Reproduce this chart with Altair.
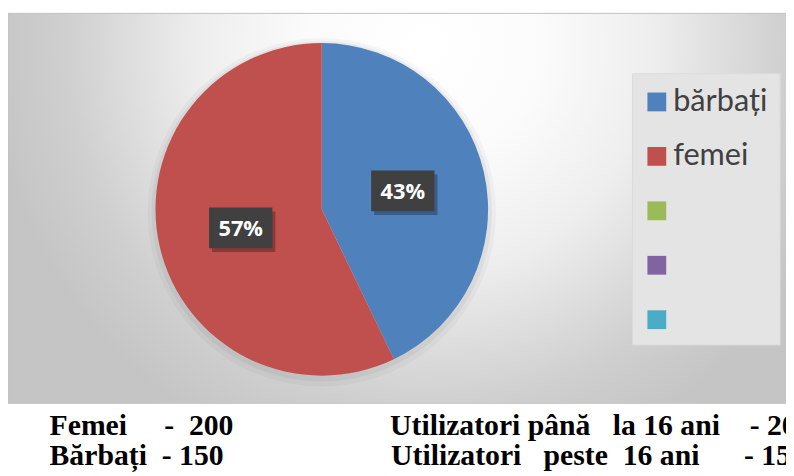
import altair as alt
import pandas as pd

# ---- data ----
categories = ["bărbați", "femei"]
values = [150, 200]
order_idx = [0, 1]
legend_domain = ["bărbați", "femei", "s3", "s4", "s5"]
legend_colors = ["#4F81BD", "#C0504D", "#9BBB59", "#8064A2", "#4BACC6"]
footer_left_names = ["Femei", "Bărbați"]
footer_left_values = [200, 150]
footer_right_words_1 = ["Utilizatori până", "la 16 ani"]
footer_right_words_2 = ["Utilizatori", "peste", "16 ani"]
footer_right_values = [200, 150]

# ---- layout ----
W, H = 786, 468
CX, CY, R, LR = 317, 201, 168, 84
NB = "\u00a0"

pie_df = pd.DataFrame({"cat": categories, "val": values, "idx": order_idx})

base = (
    alt.Chart(pie_df)
    .transform_joinaggregate(total="sum(val)")
    .transform_window(cum="sum(val)", sort=[alt.SortField("idx")], frame=[None, 0])
    .transform_calculate(mid="(datum.cum - datum.val / 2) / datum.total * 2 * PI")
    .transform_calculate(lx=f"{CX} + {LR} * sin(datum.mid)")
    .transform_calculate(ly=f"{CY} - {LR} * cos(datum.mid)")
    .transform_calculate(pct="format(datum.val / datum.total, '.0%')")
    .transform_calculate(bx1="datum.lx - 32", bx2="datum.lx + 32",
                         by1="datum.ly - 20.5", by2="datum.ly + 20.5")
    .transform_calculate(sx1="datum.bx1 + 3", sx2="datum.bx2 + 3",
                         sy1="datum.by1 + 4", sy2="datum.by2 + 4")
)

gradient = alt.RadialGradient(
    gradient="radial",
    stops=[
        alt.GradientStop(offset=0.0, color="#ffffff"),
        alt.GradientStop(offset=0.27, color="#fbfbfb"),
        alt.GradientStop(offset=0.52, color="#eeeeee"),
        alt.GradientStop(offset=0.68, color="#dedede"),
        alt.GradientStop(offset=0.83, color="#cfcfcf"),
        alt.GradientStop(offset=1.0, color="#c5c5c5"),
    ],
    x1=0.534, y1=0.293, r1=0, x2=0.534, y2=0.293, r2=0.556,
)

bg = alt.Chart(alt.Data(values=[{}])).mark_rect(
    fill=gradient, stroke="#c2c2c2", strokeWidth=1
).encode(x=alt.value(0), x2=alt.value(W + 5), y=alt.value(3), y2=alt.value(397))

legend_box = alt.Chart(alt.Data(values=[{}])).mark_rect(
    fill="#e4e4e4", stroke="#dcdcdc", strokeWidth=1
).encode(x=alt.value(631), x2=alt.value(780), y=alt.value(64), y2=alt.value(338))

halo1 = alt.Chart(alt.Data(values=[{}])).mark_arc(
    radius=176, theta=0, theta2=6.2832, color="#000000", opacity=0.03
).encode(x=alt.value(CX), y=alt.value(CY + 3))
halo2 = alt.Chart(alt.Data(values=[{}])).mark_arc(
    radius=172, theta=0, theta2=6.2832, color="#000000", opacity=0.045
).encode(x=alt.value(CX), y=alt.value(CY + 2))

pie = alt.Chart(pie_df).mark_arc(radius=R).encode(
    theta=alt.Theta("val:Q", stack=True),
    order=alt.Order("idx:Q"),
    color=alt.Color(
        "cat:N",
        scale=alt.Scale(domain=legend_domain, range=legend_colors),
        legend=alt.Legend(
            title=None,
            orient="none",
            legendX=640,
            legendY=77,
            symbolType="square",
            symbolSize=361,
            symbolStrokeWidth=0,
            symbolOpacity=1,
            labelFont="Lato",
            labelFontSize=31,
            labelColor="#404040",
            labelOffset=1,
            padding=0,
            rowPadding=23,
            labelExpr="indexof(['s3','s4','s5'], datum.label) >= 0 ? '' : datum.label",
        ),
    ),
    x=alt.value(CX),
    y=alt.value(CY),
)

shadow = base.mark_rect(color="#000000", opacity=0.28).encode(
    x=alt.X("sx1:Q", scale=None), x2="sx2:Q",
    y=alt.Y("sy1:Q", scale=None), y2="sy2:Q",
)
boxes = base.mark_rect(color="#404040").encode(
    x=alt.X("bx1:Q", scale=None), x2="bx2:Q",
    y=alt.Y("by1:Q", scale=None), y2="by2:Q",
)
labels = base.mark_text(
    font="Open Sans", fontSize=22, fontWeight="bold", color="white",
    align="center", baseline="middle", dy=1,
).encode(x=alt.X("lx:Q", scale=None), y=alt.Y("ly:Q", scale=None), text="pct:N")


def footer(txt, x, y):
    return alt.Chart(alt.Data(values=[{}])).mark_text(
        text=txt, align="left", baseline="alphabetic",
        font="Liberation Serif", fontSize=30, fontWeight="bold", color="#000000",
    ).encode(x=alt.value(x), y=alt.value(y))


def nb(s):
    return s.replace(" ", NB)


f1 = footer(f"{footer_left_names[0]}{NB*5}-{NB*2}{footer_left_values[0]}", 42, 429)
f2 = footer(f"{footer_left_names[1]}{NB*2}-{NB}{footer_left_values[1]}", 42, 459)
f3 = footer(
    f"{nb(footer_right_words_1[0])}{NB*3}{nb(footer_right_words_1[1])}{NB*4}-{NB}{footer_right_values[0]}",
    386, 429,
)
f4 = footer(
    f"{footer_right_words_2[0]}{NB*3}{footer_right_words_2[1]}{NB*2}{nb(footer_right_words_2[2])}"
    f"{NB*6}-{NB}{footer_right_values[1]}",
    387, 459,
)

chart = (
    alt.layer(bg, legend_box, halo1, halo2, pie, shadow, boxes, labels, f1, f2, f3, f4)
    .properties(width=W, height=H, padding=0, autosize=alt.AutoSizeParams(type="none"))
    .configure_view(stroke=None)
)

chart.save("out.html", embed_options={"renderer": "svg", "actions": False})
